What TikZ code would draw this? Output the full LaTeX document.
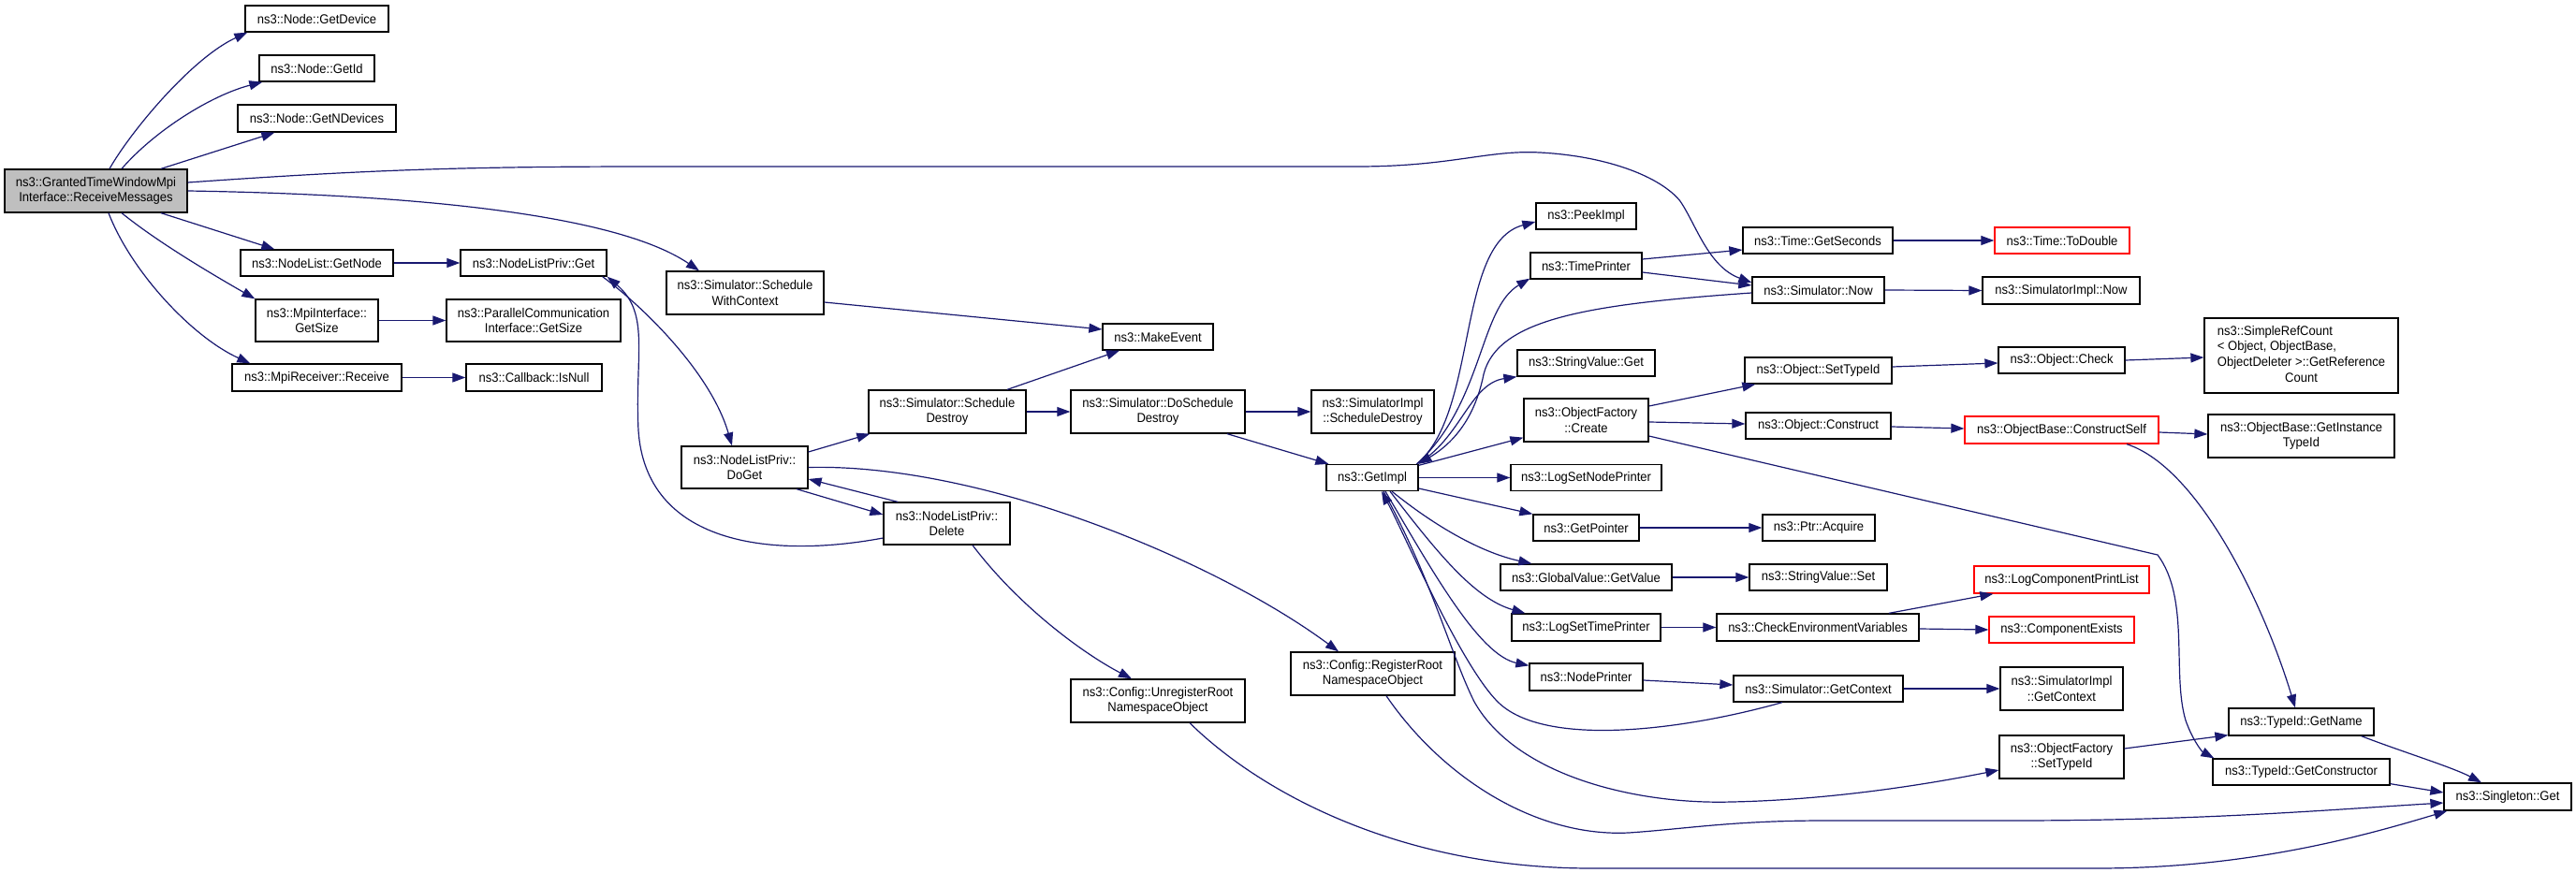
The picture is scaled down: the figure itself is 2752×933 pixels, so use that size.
\documentclass[tikz,border=0pt]{standalone}
\usepackage{fontspec}
\setmainfont{Liberation Sans}[FakeStretch=0.93]
\usetikzlibrary{arrows.meta}
\definecolor{edgeblue}{HTML}{191970}
\definecolor{maingray}{HTML}{BFBFBF}
\newcommand{\nodefont}{\fontsize{14}{16.7}\selectfont}
\tikzset{
  box/.style={draw=black, line width=1.3pt, fill=white, inner sep=0pt, align=center, font=\nodefont},
  redbox/.style={box, draw=red},
  mainbox/.style={box, fill=maingray},
  wh/.style 2 args={minimum width=#1, minimum height=#2},
  edge/.style={draw=edgeblue, line width=1.2pt, -{Triangle[length=14pt,width=10pt]}}
}
\begin{document}
\begin{tikzpicture}[x=1pt,y=-1pt]
\useasboundingbox (0,0) rectangle (2752,933);
% column 1
\node[mainbox, wh={195}{46}] (main) at (102.5,204) {ns3::GrantedTimeWindowMpi\\Interface::ReceiveMessages};
% column 2
\node[box, wh={153}{28}] (getdevice) at (338.5,20) {ns3::Node::GetDevice};
\node[box, wh={123}{28}] (getid) at (338.5,73) {ns3::Node::GetId};
\node[box, wh={169}{29}] (getndev) at (338.5,126.5) {ns3::Node::GetNDevices};
\node[box, wh={163}{28}] (getnode) at (338.5,281) {ns3::NodeList::GetNode};
\node[box, wh={131}{45}] (mpisize) at (338.5,342.5) {ns3::MpiInterface::\\GetSize};
\node[box, wh={181}{29}] (mpirecv) at (338.5,403.5) {ns3::MpiReceiver::Receive};
% column 3
\node[box, wh={156}{28}] (nlpget) at (570,281) {ns3::NodeListPriv::Get};
\node[box, wh={186}{45}] (pcsize) at (570,342.5) {ns3::ParallelCommunication\\Interface::GetSize};
\node[box, wh={145}{29}] (isnull) at (570.5,403.5) {ns3::Callback::IsNull};
% column 4
\node[box, wh={168}{46}] (swc) at (796,313) {ns3::Simulator::Schedule\\WithContext};
\node[box, wh={135}{45}] (doget) at (795.5,499.5) {ns3::NodeListPriv::\\DoGet};
% column 5
\node[box, wh={168}{46}] (sdestroy) at (1012,440) {ns3::Simulator::Schedule\\Destroy};
\node[box, wh={135}{45}] (delete) at (1011.5,559.5) {ns3::NodeListPriv::\\Delete};
% column 6
\node[box, wh={118}{28}] (makeevent) at (1237,360) {ns3::MakeEvent};
\node[box, wh={186}{46}] (dosd) at (1237,440) {ns3::Simulator::DoSchedule\\Destroy};
\node[box, wh={186}{46}] (unreg) at (1237,749) {ns3::Config::UnregisterRoot\\NamespaceObject};
% column 7
\node[box, wh={131}{46}] (simplsd) at (1466.5,440) {ns3::SimulatorImpl\\::ScheduleDestroy};
\node[box, wh={98}{28}] (getimpl) at (1466,510.5) {ns3::GetImpl};
\node[box, wh={175}{46}] (reg) at (1466.5,720) {ns3::Config::RegisterRoot\\NamespaceObject};
% column 8
\node[box, wh={107}{28}] (peekimpl) at (1694.5,231) {ns3::PeekImpl};
\node[box, wh={119}{28}] (timeprinter) at (1694.5,284) {ns3::TimePrinter};
\node[box, wh={147}{28}] (svget) at (1694.5,388) {ns3::StringValue::Get};
\node[box, wh={133}{46}] (ofcreate) at (1694.5,449) {ns3::ObjectFactory\\::Create};
\node[box, wh={161}{28}] (logsetnode) at (1694.5,510.5) {ns3::LogSetNodePrinter};
\node[box, wh={113}{28}] (getpointer) at (1694.5,564) {ns3::GetPointer};
\node[box, wh={183}{28}] (gvget) at (1694.5,617) {ns3::GlobalValue::GetValue};
\node[box, wh={159}{29}] (logsettime) at (1694.5,670.5) {ns3::LogSetTimePrinter};
\node[box, wh={121}{29}] (nodeprinter) at (1694.5,723.5) {ns3::NodePrinter};
% column 9
\node[box, wh={160}{28}] (getseconds) at (1942,257) {ns3::Time::GetSeconds};
\node[box, wh={141}{28}] (simnow) at (1942.5,310) {ns3::Simulator::Now};
\node[box, wh={157}{28}] (objsettypeid) at (1942.5,396) {ns3::Object::SetTypeId};
\node[box, wh={155}{28}] (objconstruct) at (1942.5,455) {ns3::Object::Construct};
\node[box, wh={120}{28}] (ptracquire) at (1943,564) {ns3::Ptr::Acquire};
\node[box, wh={147}{28}] (svset) at (1942.5,617) {ns3::StringValue::Set};
\node[box, wh={216}{29}] (checkenv) at (1942,670.5) {ns3::CheckEnvironmentVariables};
\node[box, wh={181}{28}] (simgetctx) at (1942.5,736) {ns3::Simulator::GetContext};
% column 10
\node[redbox, wh={144}{28}] (todouble) at (2203,257) {ns3::Time::ToDouble};
\node[box, wh={168}{29}] (implnow) at (2202,310.5) {ns3::SimulatorImpl::Now};
\node[box, wh={135}{28}] (objcheck) at (2202.5,385) {ns3::Object::Check};
\node[redbox, wh={207}{29}] (constructself) at (2202.5,459.5) {ns3::ObjectBase::ConstructSelf};
\node[redbox, wh={187}{29}] (logcomp) at (2202.5,619.5) {ns3::LogComponentPrintList};
\node[redbox, wh={155}{28}] (compexists) at (2202.5,673) {ns3::ComponentExists};
\node[box, wh={131}{46}] (implgetctx) at (2202.5,736) {ns3::SimulatorImpl\\::GetContext};
\node[box, wh={133}{46}] (ofsettypeid) at (2202.5,809) {ns3::ObjectFactory\\::SetTypeId};
% column 11
\node[box, wh={207}{80}] (simpleref) at (2458.5,380) {\begin{tabular}{@{}l@{}}ns3::SimpleRefCount\\ {<} Object, ObjectBase,\\ \multicolumn{1}{@{}c@{}}{ObjectDeleter {>}::GetReference}\\ \multicolumn{1}{@{}c@{}}{Count}\end{tabular}};
\node[box, wh={199}{46}] (getinsttypeid) at (2458.5,466) {ns3::ObjectBase::GetInstance\\TypeId};
\node[box, wh={155}{29}] (getname) at (2458.5,771.5) {ns3::TypeId::GetName};
\node[box, wh={189}{28}] (getctor) at (2458.5,825) {ns3::TypeId::GetConstructor};
% column 12
\node[box, wh={136}{29}] (singleton) at (2679,851.5) {ns3::Singleton::Get};

% ---- edges from main
\draw[edge] ([xshift=14.5]main.north) .. controls (140,140) and (205,62) .. ([xshift=3]getdevice.south west);
\draw[edge] ([xshift=27.5]main.north) .. controls (165,140) and (225,102) .. ([xshift=4]getid.south west);
\draw[edge] ([xshift=69.5]main.north) -- ([xshift=40]getndev.south west);
\draw[edge] ([xshift=69.5]main.south) -- ([xshift=37]getnode.north west);
\draw[edge] ([xshift=27.5]main.south) .. controls (170,260) and (230,295) .. (mpisize.north west);
\draw[edge] ([xshift=13.5]main.south) .. controls (140,290) and (205,360) .. ([xshift=20]mpirecv.north west);
\draw[edge] ([yshift=9]main.east) .. controls (400,181) and (500,178) .. (700,178) -- (1450,178)
  .. controls (1550,178) and (1590,160) .. (1645,163) .. controls (1720,167) and (1775,190) .. (1795,215)
  .. controls (1812,240) and (1825,285) .. ([yshift=8]simnow.west);
\draw[edge] (main.east) .. controls (450,208) and (660,230) .. ([xshift=-49]swc.north);
% ---- second column
\draw[edge] (getnode.east) -- (nlpget.west);
\draw[edge] (mpisize.east) -- (pcsize.west);
\draw[edge] (mpirecv.east) -- (isnull.west);
% ---- NodeListPriv
\draw[edge] ([xshift=-5]nlpget.south east) .. controls (690,330) and (760,400) .. ([xshift=-13.5]doget.north);
\draw[edge] ([yshift=-15.5]delete.west) .. controls (820,598) and (690,580) .. (682,460)
  .. controls (678,380) and (695,335) .. (nlpget.south east);
\draw[edge] ([yshift=16.5]doget.east) -- ([xshift=2]sdestroy.south west);
\draw[edge] ([xshift=55.5]doget.south) -- ([yshift=9.5]delete.west);
\draw[edge] ([xshift=-52.5]delete.north) -- ([yshift=-12.5]doget.east);
\draw[edge] (doget.east) .. controls (1050,495) and (1300,600) .. ([xshift=-36.5]reg.north);
\draw[edge] ([xshift=27.5]delete.south) .. controls (1090,650) and (1160,700) .. ([xshift=-28]unreg.north);
\draw[edge] ([xshift=34]unreg.south) .. controls (1350,850) and (1500,928) .. (1700,928) -- (2240,928)
  .. controls (2400,928) and (2520,895) .. ([xshift=4]singleton.south west);
\draw[edge] ([xshift=14.5]reg.south) .. controls (1540,830) and (1640,895) .. (1740,890)
  .. controls (1800,886) and (1850,877) .. (1950,877) -- (2150,877)
  .. controls (2350,877) and (2480,866) .. ([yshift=-6.5]singleton.west);
% ---- scheduling
\draw[edge] ([yshift=-10]swc.east) -- ([yshift=8]makeevent.west);
\draw[edge] ([xshift=64]sdestroy.north) -- ([xshift=-41]makeevent.south);
\draw[edge] (sdestroy.east) -- (dosd.west);
\draw[edge] (dosd.east) -- (simplsd.west);
\draw[edge] ([xshift=74]dosd.south) -- ([xshift=3]getimpl.north west);
% ---- GetImpl
\draw[edge] ([xshift=-2]getimpl.north east) .. controls (1580,440) and (1555,260) .. ([yshift=-6]peekimpl.west);
\draw[edge] ([xshift=-2]getimpl.north east) .. controls (1585,430) and (1580,330) .. ([yshift=1]timeprinter.south west);
\draw[edge] ([yshift=-3]simnow.west) .. controls (1700,325) and (1600,340) .. (1585,400)
  .. controls (1575,450) and (1550,475) .. (getimpl.north east);
\draw[edge] ([xshift=-2]getimpl.north east) .. controls (1560,470) and (1570,410) .. (svget.south west);
\draw[edge] ([yshift=-1.5]getimpl.north east) -- ([yshift=5]ofcreate.south west);
\draw[edge] (getimpl.east) -- (logsetnode.west);
\draw[edge] ([yshift=-11.5]getimpl.east) -- (getpointer.north west);
\draw[edge] ([xshift=21]getimpl.south) .. controls (1530,560) and (1580,590) .. ([xshift=34]gvget.north west);
\draw[edge] ([xshift=19]getimpl.south) .. controls (1535,590) and (1575,640) .. ([xshift=15]logsettime.north west);
\draw[edge] ([xshift=14]getimpl.south) .. controls (1530,610) and (1580,700) .. ([yshift=-3]nodeprinter.north west);
\draw[edge] ([xshift=-38.5]simgetctx.south) .. controls (1800,780) and (1650,800) .. (1600,750)
  .. controls (1560,710) and (1500,570) .. ([xshift=10]getimpl.south);
\draw[edge] ([xshift=12]getimpl.south) .. controls (1530,620) and (1550,700) .. (1575,750)
  .. controls (1620,830) and (1750,860) .. (1850,857)
  .. controls (1950,855) and (2050,840) .. ([yshift=-14]ofsettypeid.west);
% ---- column 8 to 9
\draw[edge] ([yshift=7]timeprinter.east) -- ([yshift=-10]getseconds.west);
\draw[edge] ([yshift=-7]timeprinter.east) -- ([yshift=5]simnow.west);
\draw[edge] (getseconds.east) -- (todouble.west);
\draw[edge] (simnow.east) -- (implnow.west);
\draw[edge] ([yshift=15]ofcreate.east) -- ([xshift=12]objsettypeid.south west);
\draw[edge] ([yshift=-2]ofcreate.east) -- ([yshift=2]objconstruct.west);
\draw[edge] ([yshift=-17]ofcreate.east) -- (2305,593) .. controls (2340,640) and (2320,720) .. (2335,770)
  .. controls (2342,790) and (2352,803) .. ([xshift=2]getctor.north west);
\draw[edge] (getpointer.east) -- (ptracquire.west);
\draw[edge] (gvget.east) -- (svset.west);
\draw[edge] (logsettime.east) -- (checkenv.west);
\draw[edge] ([yshift=-3.5]nodeprinter.east) -- ([yshift=4]simgetctx.west);
% ---- column 9 to 10
\draw[edge] ([yshift=4]objsettypeid.east) -- ([yshift=-3]objcheck.west);
\draw[edge] ([yshift=-1]objconstruct.east) -- ([yshift=1.5]constructself.west);
\draw[edge] ([xshift=76]checkenv.north) -- ([xshift=21]logcomp.south west);
\draw[edge] ([yshift=-1.5]checkenv.east) -- (compexists.west);
\draw[edge] (simgetctx.east) -- (implgetctx.west);
% ---- column 10 to 11/12
\draw[edge] (objcheck.east) -- ([yshift=-2]simpleref.west);
\draw[edge] ([yshift=-2.5]constructself.east) -- ([yshift=2]getinsttypeid.west);
\draw[edge] ([xshift=69.5]constructself.south) .. controls (2350,500) and (2420,650) .. ([xshift=-6.5]getname.north);
\draw[edge] ([yshift=9]ofsettypeid.east) -- ([yshift=1]getname.south west);
\draw[edge] ([xshift=-14]getname.south east) .. controls (2565,803) and (2620,820) .. ([xshift=-28]singleton.north);
\draw[edge] ([yshift=2]getctor.south east) -- ([yshift=4.5]singleton.west);
\end{tikzpicture}
\end{document}
